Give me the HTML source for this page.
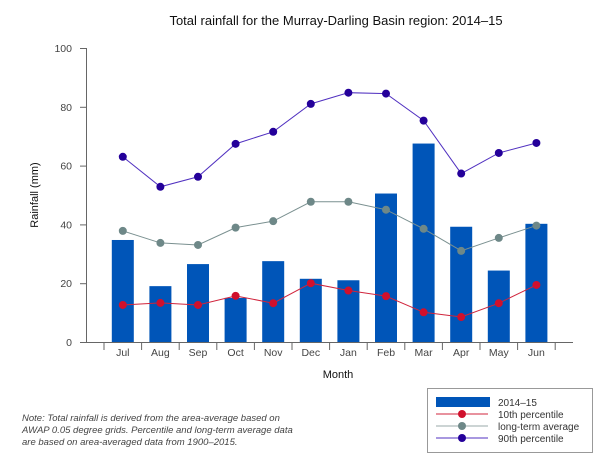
<!DOCTYPE html>
<html><head><meta charset="utf-8"><style>
body{margin:0;background:#fff;font-family:"Liberation Sans",sans-serif}
text{font-family:"Liberation Sans",sans-serif}
</style></head><body>
<svg id="chart" width="616" height="468" viewBox="0 0 616 468">
<text x="336" y="25" text-anchor="middle" font-size="13" fill="#111">Total rainfall for the Murray-Darling Basin region: 2014–15</text>
<g id="yaxis"></g>
<g id="bars"></g>
<g id="lines"></g>
<g id="xaxis"></g>
<text x="0" y="0" transform="translate(38,195) rotate(-90)" text-anchor="middle" font-size="11" fill="#111">Rainfall (mm)</text>
<text x="338" y="378" text-anchor="middle" font-size="11" fill="#111">Month</text>
<g font-size="9.5" font-style="italic" fill="#444">
<text x="22" y="421">Note: Total rainfall is derived from the area-average based on</text>
<text x="22" y="433">AWAP 0.05 degree grids. Percentile and long-term average data</text>
<text x="22" y="445">are based on area-averaged data from 1900–2015.</text>
</g>
<g>
<rect x="427.5" y="388.5" width="165" height="64" fill="#fff" stroke="#999"/>
<rect x="436" y="397" width="54" height="10" fill="#0055b8"/>
<text x="498" y="406" font-size="10" fill="#333">2014–15</text>
<line x1="436" x2="488" y1="414" y2="414" stroke="#d0243c"/><circle cx="462" cy="414" r="4" fill="#d0102c"/>
<text x="498" y="418" font-size="10" fill="#333">10th percentile</text>
<line x1="436" x2="488" y1="426" y2="426" stroke="#9aaaaa"/><circle cx="462" cy="426" r="4" fill="#6e8888"/>
<text x="498" y="430" font-size="10" fill="#333">long-term average</text>
<line x1="436" x2="488" y1="438" y2="438" stroke="#5030c0"/><circle cx="462" cy="438" r="4" fill="#24009a"/>
<text x="498" y="442" font-size="10" fill="#333">90th percentile</text>
</g>
</svg>
<script>
const months=["Jul","Aug","Sep","Oct","Nov","Dec","Jan","Feb","Mar","Apr","May","Jun"];
const rain=[34.7,19,26.5,15,27.5,21.5,21,50.5,67.5,39.2,24.3,40.2];
const p10=[12.6,13.3,12.6,15.7,13.2,20,17.5,15.6,10.1,8.5,13.2,19.4];
const avg=[37.8,33.7,33,38.9,41.1,47.7,47.7,45,38.5,31,35.4,39.6];
const p90=[63,52.8,56.2,67.4,71.5,81,84.8,84.5,75.3,57.3,64.3,67.7];
const yTicks=[0,20,40,60,80,100];
const NS="http://www.w3.org/2000/svg";
const x0=104,band=37.6,yZero=342,yTop=48;
function xs(i){return x0+band*(i+0.5);}
function ys(v){return yZero-(v/100)*(yZero-yTop);}
function mk(tag,attrs,parent){const e=document.createElementNS(NS,tag);for(const k in attrs)e.setAttribute(k,attrs[k]);parent.appendChild(e);return e;}
const ya=document.getElementById('yaxis');
mk('line',{x1:86.5,x2:86.5,y1:yTop,y2:yZero,stroke:'#666'},ya);
yTicks.forEach(t=>{
 const l=mk('line',{x1:80,x2:86.5,y1:ys(t)+0.5,y2:ys(t)+0.5,stroke:'#666'},ya);
 
 
 const tx=mk('text',{x:72,y:ys(t)+4,'text-anchor':'end','font-size':'10.5',fill:'#444'},ya);
 tx.textContent=t;
 
 
});
const xa=document.getElementById('xaxis');
mk('line',{x1:86,x2:573,y1:yZero+0.5,y2:yZero+0.5,stroke:'#666'},xa);
for(let i=0;i<=months.length;i++){
 const t=mk('line',{x1:x0+band*i,x2:x0+band*i,y1:yZero,y2:yZero+8,stroke:'#666'},xa);
 
 
}
months.forEach((m,i)=>{
 const tx=mk('text',{x:xs(i),y:yZero+14,'text-anchor':'middle','font-size':'10.5',fill:'#444'},xa);
 tx.textContent=m;
 
 
});
const bg=document.getElementById('bars');
rain.forEach((v,i)=>{
 const r=mk('rect',{x:xs(i)-11,y:ys(v),width:22,height:yZero-ys(v),fill:'#0055b8'},bg);
 
 
});
const lg=document.getElementById('lines');
function series(vals,lc,pc,name){
 const pts=vals.map((v,i)=>xs(i)+','+ys(v)).join(' ');
 const pl=mk('polyline',{points:pts,fill:'none',stroke:lc,'stroke-width':1},lg);
 
 
 vals.forEach((v,i)=>{
  const c=mk('circle',{cx:xs(i),cy:ys(v),r:4,fill:pc},lg);
  
  
 });
}
series(p10,'#d0243c','#d0102c','p10');
series(avg,'#7a9090','#6e8888','average');
series(p90,'#5030c0','#24009a','p90');
</script>
</body></html>
